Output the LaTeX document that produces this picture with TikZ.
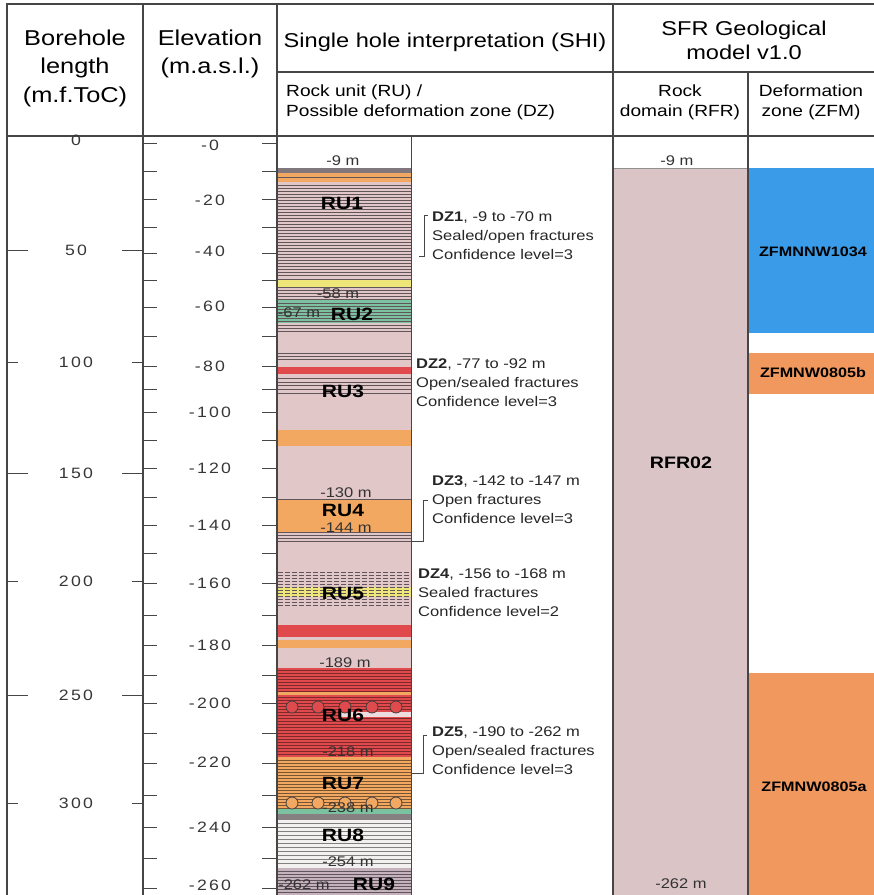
\documentclass[tikz,border=0pt]{standalone}
\usepackage{fontspec}
\setmainfont[FakeStretch=1.18]{Liberation Sans}
\newfontfamily\scalefont[FakeStretch=1.18, LetterSpace=15]{Liberation Sans}
\usepackage{xcolor}
\usepackage{tikz}
\usetikzlibrary{positioning}

\definecolor{rockpink}{RGB}{226,199,201}
\definecolor{domainpink}{RGB}{219,196,197}
\definecolor{bandorange}{RGB}{242,168,96}
\definecolor{bandred}{RGB}{224,74,76}
\definecolor{bandyellow}{RGB}{238,230,120}
\definecolor{bandgreen}{RGB}{124,194,160}
\definecolor{zoneblue}{RGB}{58,156,232}
\definecolor{zoneorange}{RGB}{240,152,94}
\definecolor{gridgray}{RGB}{70,70,70}
\definecolor{hatchgray}{RGB}{95,85,90}
\definecolor{labelgray}{RGB}{55,55,55}
\definecolor{ruwhite}{RGB}{243,240,240}
\definecolor{rumauve}{RGB}{198,178,188}

\begin{document}
\begin{tikzpicture}
  [
    x=1pt, y=-1pt,
    Head/.style={font=\fontsize{21.5}{28.5}\selectfont, align=center, inner sep=0pt},
    SubHead/.style={font=\fontsize{16.2}{20}\selectfont, align=center, inner sep=0pt},
    Scale/.style={font=\scalefont\fontsize{15}{18}\selectfont, text=labelgray, inner sep=0pt},
    Unit/.style={font=\bfseries\fontsize{17.8}{20}\selectfont, inner sep=0pt},
    Depth/.style={font=\fontsize{14}{15}\selectfont, text=black!80, inner sep=0pt},
    Zone/.style={font=\fontsize{14}{19}\selectfont, align=left, anchor=west, text=black!85, inner sep=0pt},
    Model/.style={font=\bfseries\fontsize{13.7}{16}\selectfont, inner sep=0pt},
    Grid/.style={draw=gridgray, line width=1.1pt},
    Tick/.style={draw=gridgray, line width=0.9pt},
    Hatch/.style={draw=hatchgray, line width=0.7pt},
    Bracket/.style={draw=gridgray, line width=0.8pt},
    Bead/.style={circle, draw=black!75, line width=0.8pt, minimum size=12pt, inner sep=0pt}
  ]
  \fill[white] (0,0) rectangle (874,895);
  \useasboundingbox (0,0) rectangle (874,895);

  % Log column, RU1 to RU9
  \fill[rockpink] (278,168) rectangle (411,895);
  \fill[hatchgray!80] (278,168) rectangle (411,173);
  \fill[bandorange] (278,173) rectangle (411,182);
  \draw[Hatch] (278,177) -- (411,177);
  \foreach \y in {185,188,...,277} \draw[Hatch] (278,\y) -- (411,\y);
  \fill[bandyellow] (278,279) rectangle (411,287);
  \foreach \y in {279,287,290,293,296,299} \draw[Hatch] (278,\y) -- (411,\y);
  \fill[bandgreen] (278,300) rectangle (411,323);
  \foreach \y in {303,306,...,321} \draw[Hatch] (278,\y) -- (411,\y);
  \foreach \y in {325,328,331,353,356,359} \draw[Hatch] (278,\y) -- (411,\y);
  \fill[bandred] (278,367) rectangle (411,374);
  \foreach \y in {378,382,385,389,393} \draw[Hatch] (278,\y) -- (411,\y);
  \fill[bandorange] (278,430) rectangle (411,446);
  \fill[bandorange] (278,499) rectangle (411,532);
  \foreach \y in {499,532,535,538,541} \draw[Hatch] (278,\y) -- (411,\y);
  \fill[bandyellow] (278,587) rectangle (411,597);
  \foreach \y in {572,575,...,607} \draw[Hatch, dash pattern=on 5pt off 2pt] (278,\y) -- (411,\y);
  \fill[bandred] (278,625) rectangle (411,637);
  \fill[bandorange] (278,640) rectangle (411,648);
  \fill[bandred] (278,668) rectangle (411,757);
  \foreach \y in {670,673,...,755} \draw[draw=bandred!55!black, line width=0.7pt] (278,\y) -- (411,\y);
  \fill[bandorange] (278,692) rectangle (411,695);
  \fill[rockpink!60!white] (340,712) rectangle (411,717);
  \fill[bandorange] (278,757) rectangle (411,810);
  \foreach \y in {760,763,...,808} \draw[draw=bandorange!50!black, line width=0.6pt] (278,\y) -- (411,\y);
  \fill[bandgreen] (278,809) rectangle (411,814);
  \fill[hatchgray!75] (278,814) rectangle (411,820);
  \fill[ruwhite] (278,820) rectangle (411,868);
  \foreach \y in {823,827,...,866} \draw[draw=gray, line width=0.8pt] (278,\y) -- (411,\y);
  \fill[rumauve] (278,868) rectangle (411,895);
  \foreach \y in {871,874,...,895} \draw[Hatch] (278,\y) -- (411,\y);

  % Beads
  \foreach \x [count=\i] in {292,318,345,372,396} {
    \node[Bead, fill=bandred] (redbead\i) at (\x,707) {};
    \node[Bead, fill=bandorange] (orangebead\i) at (\x,803) {};
  }

  % Rock units and depths
  \node[Depth] (top) at (343,161) {-9 m};
  \node[Unit] (ru1) at (342,203) {RU1};
  \node[Depth] (d58) at (338,294) {-58 m};
  \node[Depth] (d67) at (299,313) {-67 m};
  \node[Unit] (ru2) at (352,314) {RU2};
  \node[Unit] (ru3) at (343,391) {RU3};
  \node[Depth] (d130) at (346,493) {-130 m};
  \node[Unit] (ru4) at (343,510) {RU4};
  \node[Depth] (d144) at (346,528) {-144 m};
  \node[Unit] (ru5) at (343,593) {RU5};
  \node[Depth] (d189) at (345,663) {-189 m};
  \node[Unit] (ru6) at (343,715) {RU6};
  \node[Depth] (d218) at (348,752) {-218 m};
  \node[Unit] (ru7) at (343,783) {RU7};
  \node[Depth] (d238) at (348,808) {-238 m};
  \node[Unit] (ru8) at (343,835) {RU8};
  \node[Depth] (d254) at (348,862) {-254 m};
  \node[Depth] (d262) at (304,885) {-262 m};
  \node[Unit] (ru9) at (374,884) {RU9};

  % Deformation zones
  \node[Zone] (dz1) at (432,236) {\textbf{DZ1}, -9 to -70 m\\Sealed/open fractures\\Confidence level=3};
  \node[Zone] (dz2) at (416,383) {\textbf{DZ2}, -77 to -92 m\\Open/sealed fractures\\Confidence level=3};
  \node[Zone] (dz3) at (432,500) {\textbf{DZ3}, -142 to -147 m\\Open fractures\\Confidence level=3};
  \node[Zone] (dz4) at (418,593) {\textbf{DZ4}, -156 to -168 m\\Sealed fractures\\Confidence level=2};
  \node[Zone] (dz5) at (432,751) {\textbf{DZ5}, -190 to -262 m\\Open/sealed fractures\\Confidence level=3};

  \coordinate (dz1a) at (428,215);
  \coordinate (dz1b) at (419,256);
  \coordinate (dz3a) at (428,500);
  \coordinate (dz3b) at (411,541);
  \coordinate (dz5a) at (427,735);
  \coordinate (dz5b) at (411,773);
  \draw[Bracket] (dz1a) -- ++(-4,0) |- (dz1b);
  \draw[Bracket] (dz3a) -- ++(-5,0) |- (dz3b);
  \draw[Bracket] (dz5a) -- ++(-4,0) |- (dz5b);

  % Rock domain and deformation zones of the model
  \fill[domainpink] (614,168) rectangle (748,895);
  \draw[gridgray!60, line width=0.8pt] (614,168) -- (748,168);
  \node[Depth] (rfrtop) at (677,161) {-9 m};
  \node[Unit, font=\bfseries\fontsize{16.6}{20}\selectfont] (rfr) at (681,463) {RFR02};
  \node[Depth] (rfrbot) at (681,884) {-262 m};

  \fill[zoneblue] (749,168) rectangle (874,333);
  \fill[zoneorange] (749,353) rectangle (874,394);
  \fill[zoneorange] (749,673) rectangle (874,895);
  \node[Model] (zfm1034) at (813,252) {ZFMNNW1034};
  \node[Model] (zfm805b) at (813,373) {ZFMNW0805b};
  \node[Model] (zfm805a) at (814,787) {ZFMNW0805a};

  % Table
  \draw[Grid] (7,895) -- (7,4) -- (874,4);
  \draw[Grid] (7,136) -- (874,136);
  \draw[Grid] (277,72) -- (874,72);
  \draw[Grid] (143,4) -- (143,895);
  \draw[Grid] (277,4) -- (277,895);
  \draw[Grid] (613,4) -- (613,895);
  \draw[Grid] (748,72) -- (748,895);
  \draw[Grid, line width=0.8pt] (411,136) -- (411,895);

  % Headings
  \node[Head] (length) at (75,68) {Borehole\\length\\(m.f.ToC)};
  \node[Head] (elev) at (210,54) {Elevation\\(m.a.s.l.)};
  \node[Head, font=\fontsize{20}{24}\selectfont] (shi) at (445,42) {Single hole interpretation (SHI)};
  \node[Head, font=\fontsize{20}{24}\selectfont] (sfr) at (744,40) {SFR Geological\\model v1.0};
  \node[SubHead, align=left, anchor=west] (ru) at (286,102) {Rock unit (RU) /\\Possible deformation zone (DZ)};
  \node[SubHead] (domain) at (680,102) {Rock\\domain (RFR)};
  \node[SubHead] (zone) at (811,102) {Deformation\\zone (ZFM)};

  % Borehole length scale
  \foreach \v/\y in {0/140,50/250,100/362,150/473,200/581,250/695,300/803}
    \node[Scale] (len\v) at (76,\y) {\v};
  \foreach \y in {250,473,695} {
    \draw[Tick] (7,\y) -- (28,\y);
    \draw[Tick] (122,\y) -- (143,\y);
  }
  \foreach \y in {362,581,803} {
    \draw[Tick] (7,\y) -- (18,\y);
    \draw[Tick] (132,\y) -- (143,\y);
  }

  % Elevation scale
  \foreach \v/\y [count=\i] in {-0/145,-20/200,-40/251,-60/306,-80/366,-100/412,-120/468,-140/525,-160/583,-180/645,-200/703,-220/762,-240/827,-260/885}
    \node[Scale] (elev\i) at (210,\y) {\v};
  \foreach \y in {143,171,199,227,253,280,307,336,366,389,412,440,468,497,525,553,583,615,645,675,703,733,763,795,827,858,888} {
    \draw[Tick] (143,\y) -- (157,\y);
    \draw[Tick] (262,\y) -- (277,\y);
  }
\end{tikzpicture}
\end{document}
